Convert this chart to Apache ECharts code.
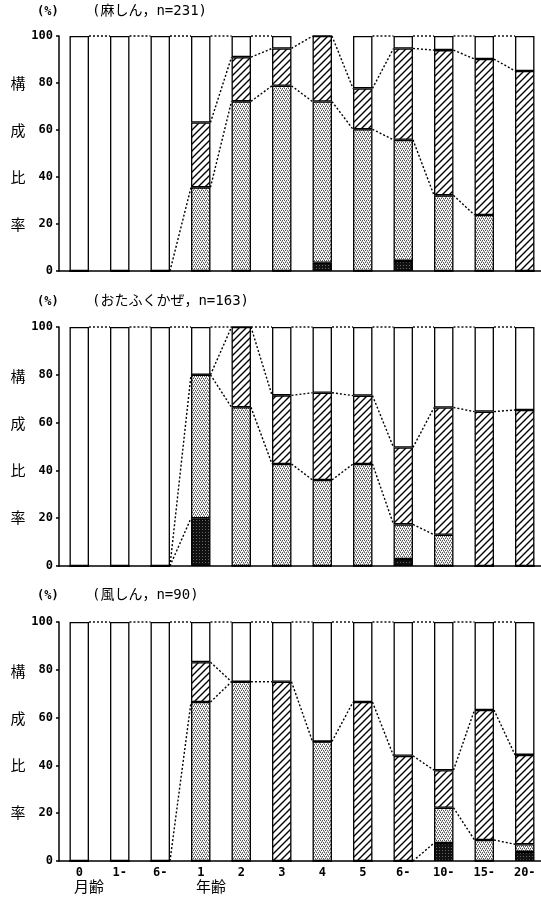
<!DOCTYPE html>
<html>
<head>
<meta charset="utf-8">
<script src="https://cdn.jsdelivr.net/npm/echarts@6/dist/echarts.min.js"></script>
<style>
  html, body { margin: 0; padding: 0; background: #fff; }
  #chart { width: 541px; height: 904px; }
</style>
</head>
<body>
<div id="chart"></div>
<script>
const categories = ['0', '1-', '6-', '1', '2', '3', '4', '5', '6-', '10-', '15-', '20-'];
const yTicks = [0, 20, 40, 60, 80, 100];

// 麻しん n=231
const blackA = [0, 0, 0, 0, 0, 0, 3.5, 0, 4.3, 0, 0, 0];
const dotA   = [0, 0, 0, 35.6, 72.2, 78.8, 68.6, 60.3, 51.5, 32.2, 23.8, 0];
const hatchA = [0, 0, 0, 27.6, 18.8, 15.9, 27.9, 17.4, 38.9, 61.8, 66.4, 85.1];
const whiteA = [100, 100, 100, 36.8, 9.0, 5.3, 0, 22.3, 5.3, 6.0, 9.8, 14.9];

// おたふくかぜ n=163
const blackB = [0, 0, 0, 20, 0, 0, 0, 0, 2.9, 0, 0, 0];
const dotB   = [0, 0, 0, 60, 66.4, 42.7, 36, 42.7, 14.5, 13.1, 0, 0];
const hatchB = [0, 0, 0, 0, 33.6, 28.7, 36.5, 28.6, 32.2, 53.2, 64.6, 65.3];
const whiteB = [100, 100, 100, 20, 0, 28.6, 27.5, 28.7, 50.4, 33.7, 35.4, 34.7];

// 風しん n=90
const blackC = [0, 0, 0, 0, 0, 0, 0, 0, 0, 7.5, 0, 3.8];
const dotC   = [0, 0, 0, 66.5, 75, 0, 50, 0, 0, 14.8, 8.8, 3.2];
const hatchC = [0, 0, 0, 16.7, 0, 75, 0, 66.5, 44, 15.7, 54.4, 37.4];
const whiteC = [100, 100, 100, 16.8, 25, 25, 50, 33.5, 56, 62, 36.8, 55.6];

// dotted connectors between neighbouring bars, per gap: [boundary in left bar, boundary in right bar]
// boundary 0 = base, 1 = top of black, 2 = top of dots, 3 = top of hatch, 4 = 100%
const linksA = [
  [[4, 4]], [[4, 4]], [[4, 4], [0, 2]],
  [[4, 4], [3, 3], [2, 2]], [[4, 4], [3, 3], [2, 2]], [[3, 3], [2, 2]], [[3, 3], [2, 2]],
  [[4, 4], [3, 3], [2, 2]], [[4, 4], [3, 3], [2, 2]], [[4, 4], [3, 3], [2, 2]], [[4, 4], [3, 3]]
];
const linksB = [
  [[4, 4]], [[4, 4]], [[4, 4], [0, 1], [0, 2]],
  [[4, 4], [2, 2], [2, 3]], [[4, 4], [3, 3], [2, 2]], [[4, 4], [3, 3], [2, 2]], [[4, 4], [3, 3], [2, 2]],
  [[4, 4], [3, 3], [2, 2]], [[4, 4], [3, 3], [2, 2]], [[4, 4], [3, 3]], [[4, 4], [3, 3]]
];
const linksC = [
  [[4, 4]], [[4, 4]], [[4, 4], [0, 2]],
  [[4, 4], [3, 3], [2, 2]], [[4, 4], [3, 3]], [[4, 4], [3, 3]], [[4, 4], [3, 3]],
  [[4, 4], [3, 3]], [[4, 4], [3, 3], [0, 1]], [[4, 4], [3, 3], [2, 2]], [[4, 4], [3, 3], [2, 2]]
];

const panels = [
  { title: '(麻しん，n=231)', black: blackA, dot: dotA, hatch: hatchA, white: whiteA, links: linksA },
  { title: '(おたふくかぜ，n=163)', black: blackB, dot: dotB, hatch: hatchB, white: whiteB, links: linksB },
  { title: '(風しん，n=90)', black: blackC, dot: dotC, hatch: hatchC, white: whiteC, links: linksC }
];

// fill textures
function makeTile(w, h, draw) {
  const c = document.createElement('canvas');
  c.width = w; c.height = h;
  const ctx = c.getContext('2d');
  ctx.fillStyle = '#fff';
  ctx.fillRect(0, 0, w, h);
  draw(ctx);
  return { image: c, repeat: 'repeat' };
}
const dotFill = makeTile(4, 4, function (ctx) {
  ctx.fillStyle = '#555';
  [[0, 0], [2, 0], [1, 2], [3, 2]].forEach(p => ctx.fillRect(p[0], p[1], 1, 1));
  ctx.fillStyle = '#aaa';
  [[1, 1], [3, 3], [0, 3], [2, 1]].forEach(p => ctx.fillRect(p[0], p[1], 1, 1));
});
const hatchFill = makeTile(7, 7, function (ctx) {
  ctx.strokeStyle = '#000';
  ctx.lineWidth = 1.4;
  ctx.beginPath();
  ctx.moveTo(-1, 8); ctx.lineTo(8, -1);
  ctx.moveTo(-2, 2); ctx.lineTo(2, -2);
  ctx.moveTo(5, 9); ctx.lineTo(9, 5);
  ctx.stroke();
});
const blackFill = makeTile(3, 3, function (ctx) {
  ctx.fillStyle = '#111';
  ctx.fillRect(0, 0, 3, 3);
  ctx.fillStyle = '#666';
  ctx.fillRect(1, 1, 1, 1);
});

const monoFont = "'DejaVu Sans Mono', 'Noto Sans CJK JP', monospace";
const jpFont = "'Noto Sans CJK JP', sans-serif";

const grids = [
  { left: 59, top: 36, width: 486, height: 235 },
  { left: 59, top: 327, width: 486, height: 239 },
  { left: 59, top: 622, width: 486, height: 239 }
];
const titleY = [13, 303, 597];

const chart = echarts.init(document.getElementById('chart'), null, { renderer: 'canvas' });

const option = {
  backgroundColor: '#fff',
  animation: false,
  grid: grids.map(g => Object.assign({ outerBoundsMode: 'none', containLabel: false }, g)),
  xAxis: grids.map((g, i) => ({
    type: 'category',
    gridIndex: i,
    data: categories,
    axisLine: { show: true, lineStyle: { color: '#000', width: 1.5 } },
    axisTick: { show: false },
    splitLine: { show: false },
    axisLabel: {
      show: i === 2,
      color: '#000',
      fontFamily: monoFont,
      fontSize: 12,
      fontWeight: 'bold',
      margin: 6
    }
  })),
  yAxis: grids.map((g, i) => ({
    type: 'value',
    gridIndex: i,
    min: yTicks[0],
    max: yTicks[yTicks.length - 1],
    interval: 20,
    name: '構\n成\n比\n率',
    nameLocation: 'middle',
    nameRotate: 0,
    nameGap: 38,
    nameTextStyle: {
      color: '#000', fontFamily: jpFont, fontSize: 15,
      lineHeight: 47, align: 'center', verticalAlign: 'middle'
    },
    axisLine: { show: true, lineStyle: { color: '#000', width: 1.5 } },
    axisTick: { show: true, length: 3, lineStyle: { color: '#000', width: 1.5 } },
    splitLine: { show: false },
    axisLabel: { color: '#000', fontFamily: monoFont, fontSize: 12, fontWeight: 'bold', margin: 6 }
  })),
  series: [],
  graphic: []
};

panels.forEach(function (p, i) {
  const layers = [
    { data: p.black, fill: blackFill },
    { data: p.dot, fill: dotFill },
    { data: p.hatch, fill: hatchFill },
    { data: p.white, fill: '#fff' }
  ];
  layers.forEach(function (l) {
    option.series.push({
      type: 'bar',
      xAxisIndex: i,
      yAxisIndex: i,
      stack: 'p' + i,
      barWidth: '48%',
      data: l.data,
      itemStyle: { color: l.fill, borderColor: '#000', borderWidth: 1.3 },
      emphasis: { disabled: true },
      z: 2
    });
  });

  // cumulative boundaries for each bar
  const cum = categories.map((c, k) => {
    const b = p.black[k], d = p.dot[k], h = p.hatch[k];
    return [0, b, b + d, b + d + h, 100];
  });

  option.series.push({
    type: 'custom',
    xAxisIndex: i,
    yAxisIndex: i,
    clip: false,
    z: 3,
    silent: true,
    data: p.links.map((l, g) => [g, 0]),
    encode: { x: 0, y: 1 },
    renderItem: function (params, api) {
      const g = api.value(0);
      const half = api.size([1, 0])[0] * 0.48 / 2;
      const children = p.links[g].map(function (pair) {
        const a = api.coord([g, cum[g][pair[0]]]);
        const b = api.coord([g + 1, cum[g + 1][pair[1]]]);
        return {
          type: 'line',
          shape: { x1: a[0] + half, y1: a[1], x2: b[0] - half, y2: b[1] },
          style: { stroke: '#000', lineWidth: 1.4, lineDash: [2, 2] }
        };
      });
      return { type: 'group', children: children };
    }
  });

  option.graphic.push({
    type: 'text', left: 37, top: titleY[i] - 7,
    style: { text: '(%)', font: 'bold 12px ' + monoFont, fill: '#000' }
  });
  option.graphic.push({
    type: 'text', left: 92, top: titleY[i] - 9,
    style: { text: p.title, font: '14px ' + monoFont, fill: '#000' }
  });
});

option.graphic.push({
  type: 'text', left: 74, top: 879,
  style: { text: '月齢', font: '15px ' + jpFont, fill: '#000' }
});
option.graphic.push({
  type: 'text', left: 196, top: 879,
  style: { text: '年齢', font: '15px ' + jpFont, fill: '#000' }
});

chart.setOption(option);
</script>
</body>
</html>
